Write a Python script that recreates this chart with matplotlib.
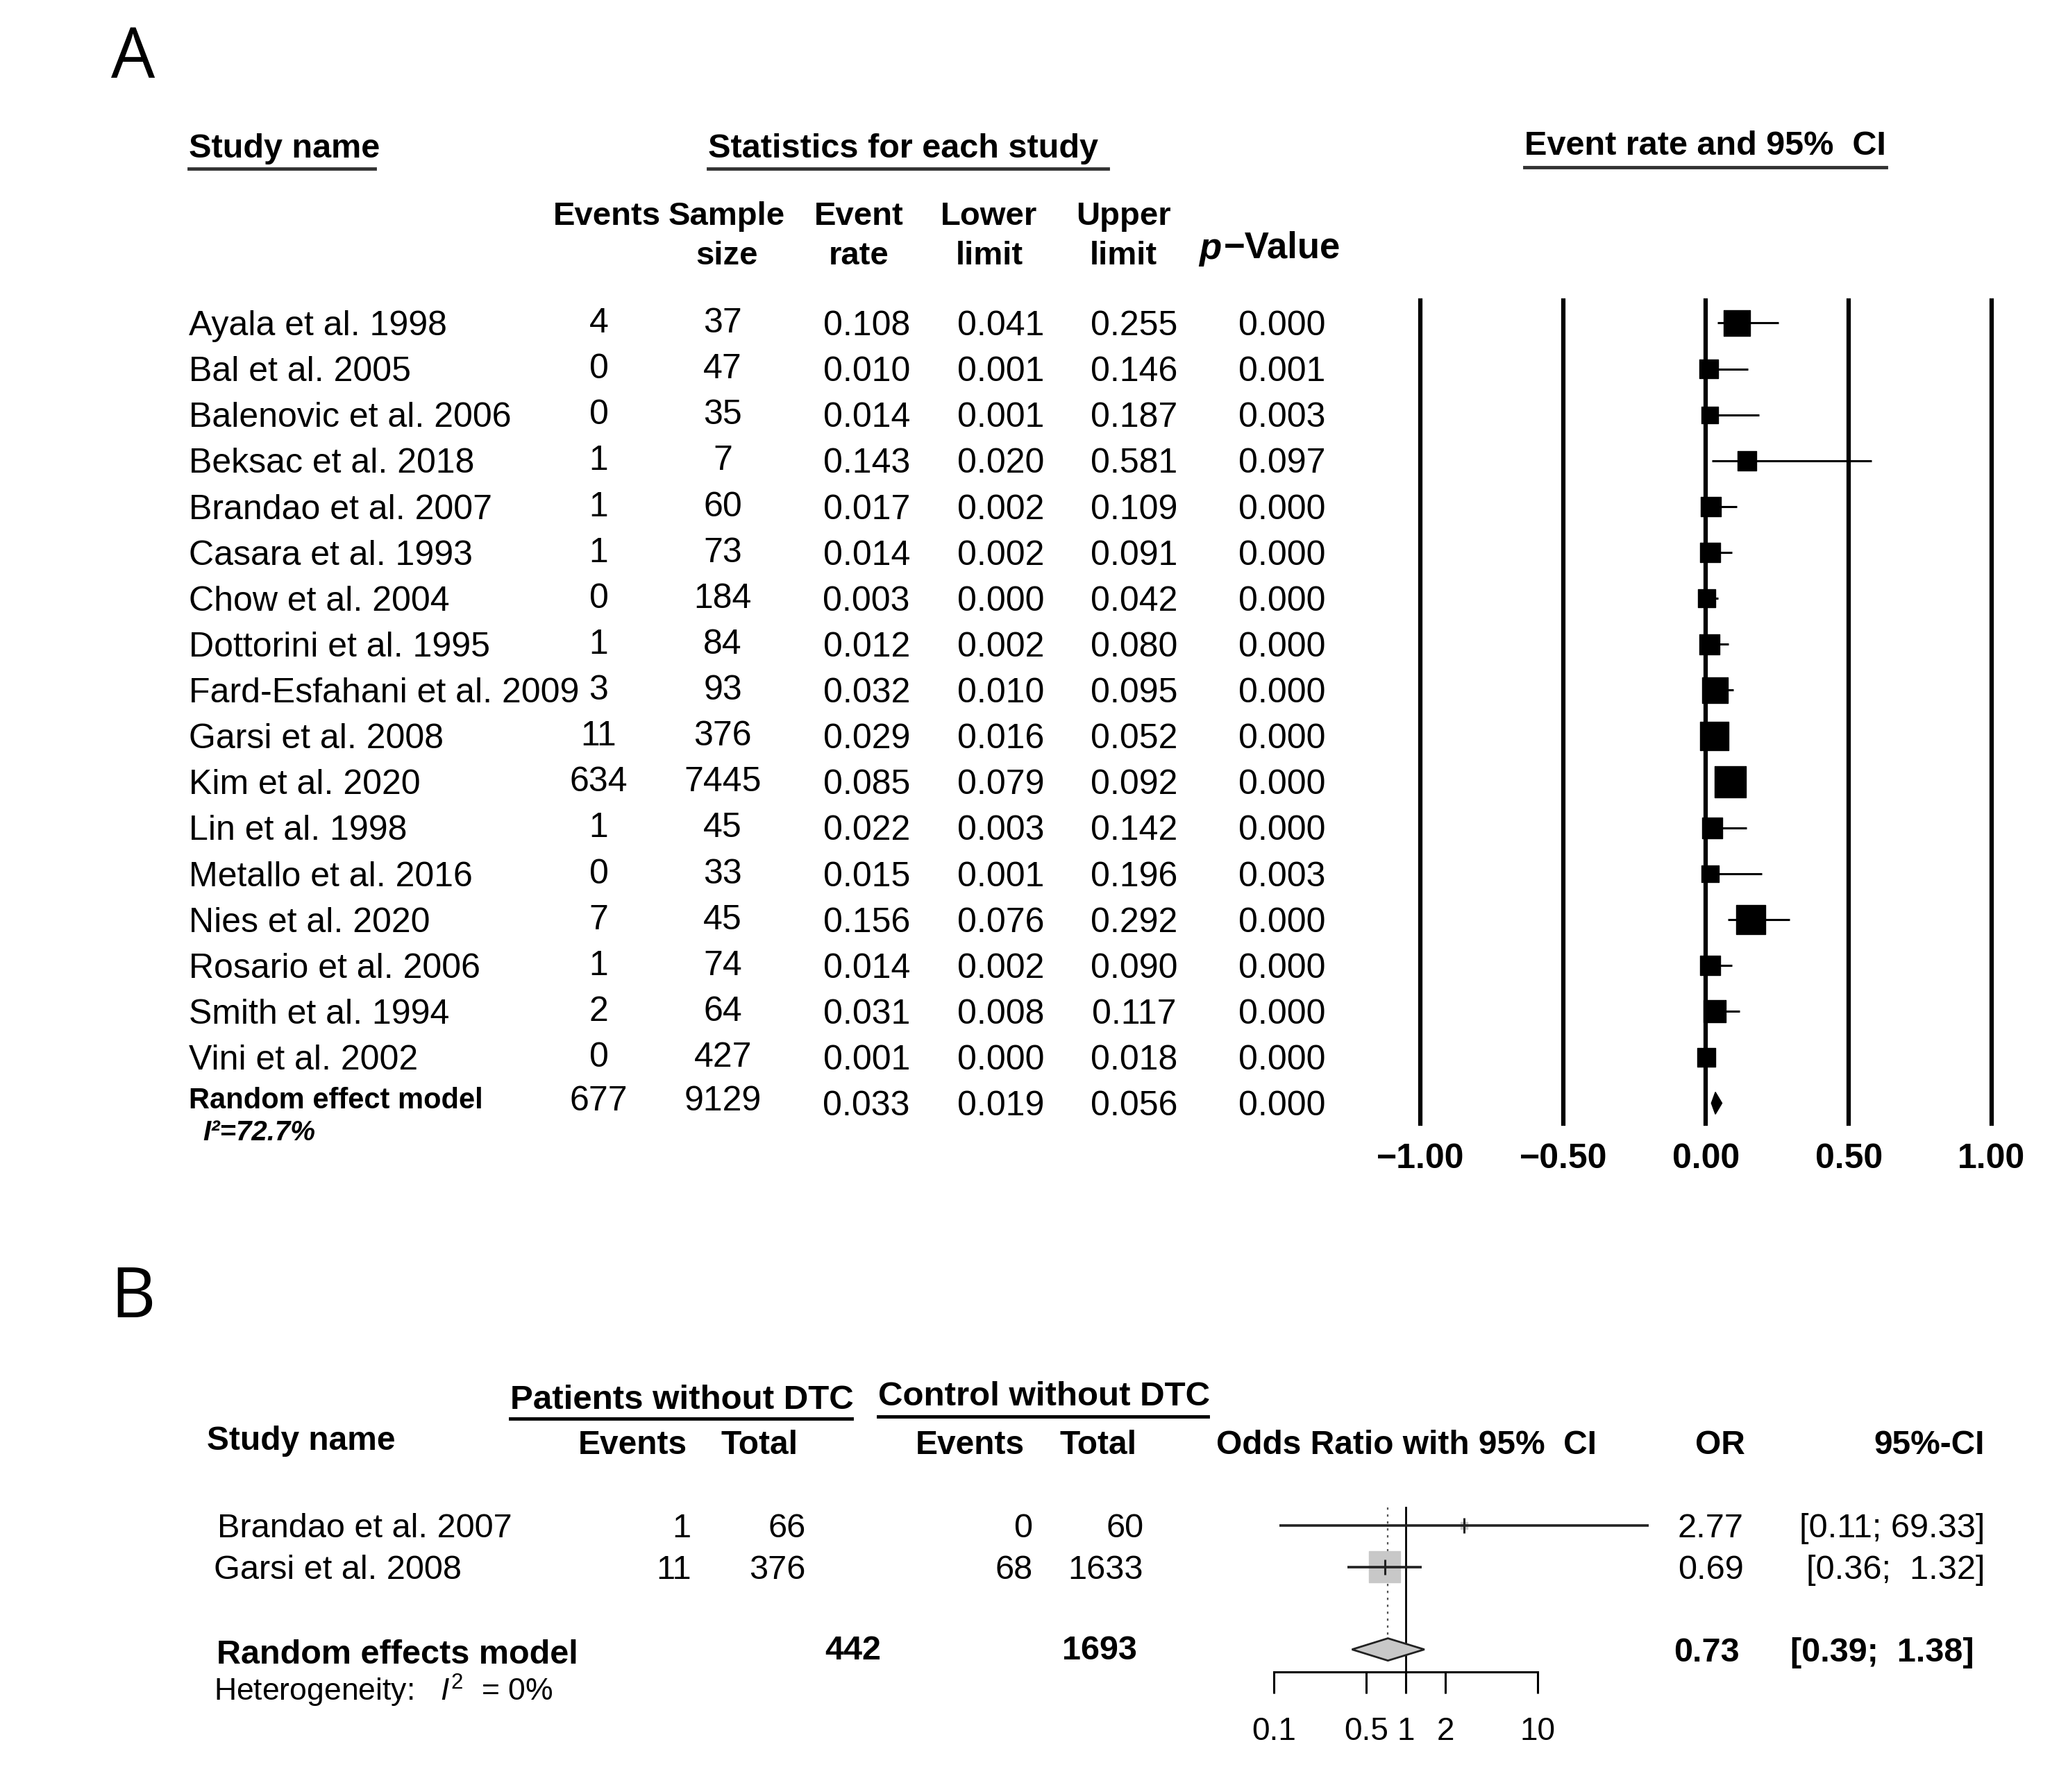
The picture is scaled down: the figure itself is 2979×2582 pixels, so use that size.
import matplotlib.pyplot as plt
from matplotlib.lines import Line2D
from matplotlib.transforms import blended_transform_factory
import numpy as np

plt.rcParams['font.family'] = ['Liberation Sans', 'DejaVu Sans']
plt.rcParams['mathtext.fontset'] = 'custom'
plt.rcParams['mathtext.rm'] = 'Liberation Sans'
plt.rcParams['mathtext.it'] = 'Liberation Sans:italic'
plt.rcParams['mathtext.bf'] = 'Liberation Sans:bold'

# ---- panel A: single-arm event rates ----
studies = ['Ayala et al. 1998', 'Bal et al. 2005', 'Balenovic et al. 2006',
           'Beksac et al. 2018', 'Brandao et al. 2007', 'Casara et al. 1993',
           'Chow et al. 2004', 'Dottorini et al. 1995', 'Fard-Esfahani et al. 2009',
           'Garsi et al. 2008', 'Kim et al. 2020', 'Lin et al. 1998',
           'Metallo et al. 2016', 'Nies et al. 2020', 'Rosario et al. 2006',
           'Smith et al. 1994', 'Vini et al. 2002']
events = [4, 0, 0, 1, 1, 1, 0, 1, 3, 11, 634, 1, 0, 7, 1, 2, 0]
sample = [37, 47, 35, 7, 60, 73, 184, 84, 93, 376, 7445, 45, 33, 45, 74, 64, 427]
rate = [0.108, 0.010, 0.014, 0.143, 0.017, 0.014, 0.003, 0.012, 0.032,
        0.029, 0.085, 0.022, 0.015, 0.156, 0.014, 0.031, 0.001]
lower = [0.041, 0.001, 0.001, 0.020, 0.002, 0.002, 0.000, 0.002, 0.010,
         0.016, 0.079, 0.003, 0.001, 0.076, 0.002, 0.008, 0.000]
upper = [0.255, 0.146, 0.187, 0.581, 0.109, 0.091, 0.042, 0.080, 0.095,
         0.052, 0.092, 0.142, 0.196, 0.292, 0.090, 0.117, 0.018]
pval = [0.000, 0.001, 0.003, 0.097, 0.000, 0.000, 0.000, 0.000, 0.000,
        0.000, 0.000, 0.000, 0.003, 0.000, 0.000, 0.000, 0.000]
weight = [8.1, 4.0, 3.4, 4.3, 4.7, 4.7, 3.7, 4.7, 8.1,
          10.0, 11.5, 5.0, 3.4, 10.0, 4.7, 5.7, 4.0]   # relative weight (%)
pooled = dict(events=677, sample=9129, rate=0.033, lower=0.019, upper=0.056, p=0.000)
i2_a = 72.7
ticks_a = [-1.0, -0.5, 0.0, 0.5, 1.0]

# ---- panel B: odds ratio ----
studies_b = ['Brandao et al. 2007', 'Garsi et al. 2008']
ev_pat = [1, 11]
tot_pat = [66, 376]
ev_ctl = [0, 68]
tot_ctl = [60, 1633]
or_b = [2.77, 0.69]
or_lo = [0.11, 0.36]
or_hi = [69.33, 1.32]
weight_b = [4.6, 95.4]
pooled_b = dict(tot_pat=442, tot_ctl=1693, orr=0.73, lo=0.39, hi=1.38)
i2_b = 0
ticks_b = [0.1, 0.5, 1, 2, 10]

# layout helpers: positions measured on a 1568 x 1359 preview of the figure
PW, PH = 1568, 1359
def fx(x):
    return x / PW
def fy(y):
    return 1 - y / PH

fig = plt.figure(figsize=(29.79, 25.82), dpi=100)

def uline(x0, x1, y, lw=3.5, color='#333333'):
    fig.add_artist(Line2D([fx(x0), fx(x1)], [fy(y), fy(y)], transform=fig.transFigure,
                          color=color, lw=lw))

# ================= Panel A =================
fig.text(fx(84), fy(45), 'A', fontsize=72, family=['Open Sans', 'DejaVu Sans'],
         ha='left', va='center')

ax_a = fig.add_axes([fx(1077), fy(852), fx(1510) - fx(1077), fy(228) - fy(852)])
row0, step = 245, 34.8
ax_a.set_xlim(-1, 1)
ax_a.set_ylim((852 - row0) / step, (228 - row0) / step)
for s in ax_a.spines.values():
    s.set_visible(False)
ax_a.set_yticks([])
ax_a.set_xticks(ticks_a)
ax_a.set_xticklabels([f'{t:.2f}'.replace('-', '\u2212') for t in ticks_a],
                     fontsize=36, fontweight='bold')
ax_a.tick_params(axis='x', length=0, pad=20)
for t in ticks_a:
    ax_a.axvline(t, color='black', lw=4.5, clip_on=False)

n = len(studies)
rows = np.arange(n)
ax_a.hlines(rows, lower, upper, color='black', lw=2.2)
size_a = (np.sqrt(np.array(weight)) * 9.5) ** 2
ax_a.scatter(rate, rows, s=size_a, marker='s', color='black', zorder=3)
h = 0.24
ax_a.fill([pooled['lower'], pooled['rate'], pooled['upper'], pooled['rate']],
          [n, n - h, n, n + h], color='black', zorder=3)

tA = blended_transform_factory(fig.transFigure, ax_a.transData)
fs_row = 36
dy = 0.07
for i in range(n):
    y = i + dy
    fig.text(fx(143), y, studies[i], transform=tA, fontsize=fs_row, va='center', ha='left')
    fig.text(fx(454), y - 0.06, str(events[i]), transform=tA, fontsize=fs_row, va='center', ha='center')
    fig.text(fx(548), y - 0.06, str(sample[i]), transform=tA, fontsize=fs_row, va='center', ha='center')
    fig.text(fx(657), y, f'{rate[i]:.3f}', transform=tA, fontsize=fs_row, va='center', ha='center')
    fig.text(fx(759), y, f'{lower[i]:.3f}', transform=tA, fontsize=fs_row, va='center', ha='center')
    fig.text(fx(860), y, f'{upper[i]:.3f}', transform=tA, fontsize=fs_row, va='center', ha='center')
    fig.text(fx(972), y, f'{pval[i]:.3f}', transform=tA, fontsize=fs_row, va='center', ha='center')

y = n + dy
fig.text(fx(143), y - 0.12, 'Random effect model', transform=tA, fontsize=30,
         fontweight='bold', va='center', ha='left')
fig.text(fx(454), y - 0.1, str(pooled['events']), transform=tA, fontsize=fs_row, va='center', ha='center')
fig.text(fx(548), y - 0.1, str(pooled['sample']), transform=tA, fontsize=fs_row, va='center', ha='center')
fig.text(fx(657), y, f"{pooled['rate']:.3f}", transform=tA, fontsize=fs_row, va='center', ha='center')
fig.text(fx(759), y, f"{pooled['lower']:.3f}", transform=tA, fontsize=fs_row, va='center', ha='center')
fig.text(fx(860), y, f"{pooled['upper']:.3f}", transform=tA, fontsize=fs_row, va='center', ha='center')
fig.text(fx(972), y, f"{pooled['p']:.3f}", transform=tA, fontsize=fs_row, va='center', ha='center')
fig.text(fx(154), n + 0.65, f'I\u00b2={i2_a}%', transform=tA, fontsize=29,
         fontweight='bold', fontstyle='italic', va='center', ha='left')

# headers A
fig.text(fx(143), fy(113), 'Study name', fontsize=35, fontweight='bold', va='center')
fig.text(fx(537), fy(113), 'Statistics for each study', fontsize=35, fontweight='bold', va='center')
fig.text(fx(1156), fy(111), 'Event rate and 95%  CI', fontsize=35, fontweight='bold', va='center')
uline(143, 284, 128)
uline(537, 840, 128)
uline(1156, 1430, 127)
for xc, top, bot in [(460, 'Events', None), (551, 'Sample', 'size'), (651, 'Event', 'rate'),
                     (750, 'Lower', 'limit'), (852, 'Upper', 'limit')]:
    fig.text(fx(xc), fy(164), top, fontsize=34, fontweight='bold', ha='center', va='center')
    if bot:
        fig.text(fx(xc), fy(194), bot, fontsize=34, fontweight='bold', ha='center', va='center')
fig.text(fx(909), fy(189), 'p', fontsize=38, fontweight='bold', fontstyle='italic', ha='left', va='center')
fig.text(fx(928), fy(188), '\u2212Value', fontsize=38, fontweight='bold', ha='left', va='center')

# ================= Panel B =================
fig.text(fx(84), fy(985), 'B', fontsize=72, family=['Open Sans', 'DejaVu Sans'],
         ha='left', va='center')

brow0, bstep = 1157, 31.3
ax_b = fig.add_axes([fx(966), fy(1268), fx(1166) - fx(966), fy(1143) - fy(1268)])
ax_b.set_xscale('log')
ax_b.set_xlim(0.1, 10)
ax_b.set_ylim((1268 - brow0) / bstep, (1143 - brow0) / bstep)
for k in ['top', 'left', 'right']:
    ax_b.spines[k].set_visible(False)
ax_b.spines['bottom'].set_linewidth(2.2)
ax_b.set_yticks([])
ax_b.set_xticks(ticks_b)
ax_b.set_xticks([], minor=True)
ax_b.set_xticklabels([f'{t:g}' for t in ticks_b], fontsize=33)
ax_b.tick_params(axis='x', length=22, width=2.2, pad=24)
ax_b.axvline(1, color='black', lw=2, clip_on=False)

rb = np.array([0, 1])
rpool = 3
ax_b.vlines(pooled_b['orr'], (1143 - brow0) / bstep, rpool - 0.27, color='#555555',
            lw=1.6, linestyles=(0, (1.5, 3)))
size_b = (np.sqrt(np.array(weight_b)) * 3.3) ** 2
ax_b.scatter(or_b, rb, s=size_b, marker='s', color='#c8c8c8', zorder=2, clip_on=False)
ax_b.hlines(rb, or_lo, or_hi, color='#222222', lw=2.6, zorder=3, clip_on=False)
ax_b.plot(or_b, rb, ls='none', marker='|', ms=16, mew=2.2, color='#222222', zorder=4)
hb = 0.27
ax_b.fill([pooled_b['lo'], pooled_b['orr'], pooled_b['hi'], pooled_b['orr']],
          [rpool, rpool - hb, rpool, rpool + hb], facecolor='#c8c8c8',
          edgecolor='#222222', lw=2, zorder=3)

tB = blended_transform_factory(fig.transFigure, ax_b.transData)
fs_b = 35
dyb = 0.08
for i in range(len(studies_b)):
    y = i + dyb
    fig.text(fx(165 if i == 0 else 162), y, studies_b[i], transform=tB, fontsize=fs_b, va='center')
    fig.text(fx(524), y, str(ev_pat[i]), transform=tB, fontsize=fs_b, va='center', ha='right')
    fig.text(fx(611), y, str(tot_pat[i]), transform=tB, fontsize=fs_b, va='center', ha='right')
    fig.text(fx(783), y, str(ev_ctl[i]), transform=tB, fontsize=fs_b, va='center', ha='right')
    fig.text(fx(867), y, str(tot_ctl[i]), transform=tB, fontsize=fs_b, va='center', ha='right')
    fig.text(fx(1322), y, f'{or_b[i]:.2f}', transform=tB, fontsize=fs_b, va='center', ha='right')
    fig.text(fx(1505), y, f'[{or_lo[i]:.2f}; {or_hi[i]:5.2f}]', transform=tB,
             fontsize=fs_b, va='center', ha='right')

y = rpool + dyb
fig.text(fx(164), y + 0.06, 'Random effects model', transform=tB, fontsize=fs_b,
         fontweight='bold', va='center')
fig.text(fx(668), y - 0.04, str(pooled_b['tot_pat']), transform=tB, fontsize=fs_b,
         fontweight='bold', va='center', ha='right')
fig.text(fx(862), y - 0.04, str(pooled_b['tot_ctl']), transform=tB, fontsize=fs_b,
         fontweight='bold', va='center', ha='right')
fig.text(fx(1319), y, f"{pooled_b['orr']:.2f}", transform=tB, fontsize=fs_b,
         fontweight='bold', va='center', ha='right')
fig.text(fx(1497), y, f"[{pooled_b['lo']:.2f}; {pooled_b['hi']:5.2f}]", transform=tB,
         fontsize=fs_b, fontweight='bold', va='center', ha='right')
fig.text(fx(162), rpool + 1.0, f'Heterogeneity:   $I^2$  = {i2_b}%', transform=tB,
         fontsize=32, va='center')

# headers B
fig.text(fx(387), fy(1062), 'Patients without DTC', fontsize=35.5, fontweight='bold', va='center')
fig.text(fx(666), fy(1059), 'Control without DTC', fontsize=35.5, fontweight='bold', va='center')
uline(387, 646, 1076, color='black')
uline(666, 916, 1074, color='black')
fig.text(fx(157), fy(1093), 'Study name', fontsize=34.5, fontweight='bold', va='center')
fig.text(fx(521), fy(1096), 'Events', fontsize=34.5, fontweight='bold', va='center', ha='right')
fig.text(fx(605), fy(1096), 'Total', fontsize=34.5, fontweight='bold', va='center', ha='right')
fig.text(fx(777), fy(1096), 'Events', fontsize=34.5, fontweight='bold', va='center', ha='right')
fig.text(fx(862), fy(1096), 'Total', fontsize=34.5, fontweight='bold', va='center', ha='right')
fig.text(fx(922), fy(1096), 'Odds Ratio with 95%  CI', fontsize=34.5, fontweight='bold', va='center')
fig.text(fx(1323), fy(1096), 'OR', fontsize=34.5, fontweight='bold', va='center', ha='right')
fig.text(fx(1505), fy(1096), '95%-CI', fontsize=34.5, fontweight='bold', va='center', ha='right')

fig.savefig('out.png', dpi=100, facecolor='white')
